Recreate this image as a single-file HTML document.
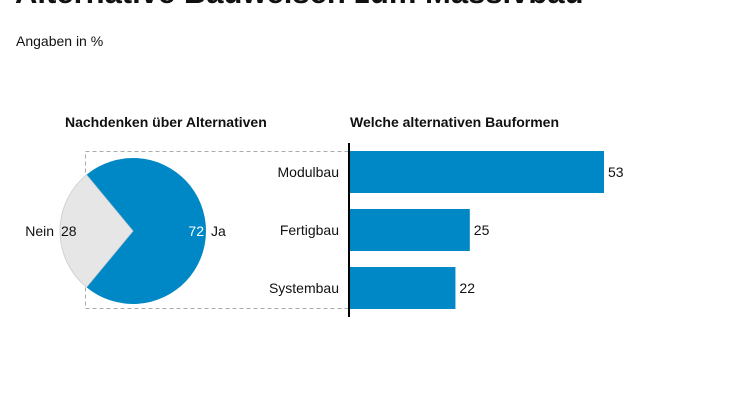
<!DOCTYPE html>
<html><head><meta charset="utf-8"><style>
body{margin:0;width:746px;height:419px;background:#fff;overflow:hidden;font-family:"Liberation Sans",Arial,sans-serif}
svg{display:block}
text{font-family:"Liberation Sans",Arial,sans-serif}
</style></head><body>
<svg width="746" height="419" viewBox="0 0 746 419">
<text x="15" y="3" font-size="31" font-weight="bold" fill="#111">Alternative Bauweisen zum Massivbau</text>
<text x="16" y="46" font-size="14" fill="#111">Angaben in %</text>
<text x="65" y="127" font-size="14" font-weight="bold" fill="#111">Nachdenken über Alternativen</text>
<text x="350" y="127" font-size="14" font-weight="bold" fill="#111">Welche alternativen Bauformen</text>
<rect x="85.5" y="151.5" width="263" height="157" fill="none" stroke="#aaa" stroke-dasharray="4,3"/>
<g id="pie"></g>
<g id="bars"></g>
<line x1="349" y1="143" x2="349" y2="317" stroke="#000" stroke-width="2"/>
</svg>
<script>
const pieLabels=["Ja","Nein"];
const pieValues=[72,28];
const categories=["Modulbau","Fertigbau","Systembau"];
const barValues=[53,25,22];
const NS="http://www.w3.org/2000/svg";
function mk(t,a,p){const e=document.createElementNS(NS,t);for(const k in a)e.setAttribute(k,a[k]);p.appendChild(e);return e;}
// pie
const cx=133,cy=231,r=73;
const pg=document.getElementById('pie');
const total=pieValues.reduce((a,b)=>a+b,0);
const nein=pieValues[1]/total*360, ja=pieValues[0]/total*360;
function pt(deg){const a=deg*Math.PI/180;return [cx+r*Math.cos(a),cy+r*Math.sin(a)];}
// Ja centered at 0deg (right), Nein centered at 180deg
const s1=pt(-ja/2),e1=pt(ja/2);
const ps1=mk('path',{d:`M${cx},${cy}L${s1[0]},${s1[1]}A${r},${r} 0 ${ja>180?1:0} 1 ${e1[0]},${e1[1]}Z`,fill:'#0088c6'},pg);


const s2=pt(180-nein/2),e2=pt(180+nein/2);
const ps2=mk('path',{d:`M${cx},${cy}L${s2[0]},${s2[1]}A${r},${r} 0 ${nein>180?1:0} 1 ${e2[0]},${e2[1]}Z`,fill:'#e6e6e6',stroke:'#ccc','stroke-width':'0.8'},pg);


const t1=mk('text',{x:204,y:236,'font-size':14,fill:'#fff','text-anchor':'end'},pg);t1.textContent=pieValues[0];


const t2=mk('text',{x:211,y:236,'font-size':14,fill:'#111'},pg);t2.textContent=pieLabels[0];


const t3=mk('text',{x:61,y:236,'font-size':14,fill:'#111'},pg);t3.textContent=pieValues[1];


const t4=mk('text',{x:54,y:236,'font-size':14,fill:'#111','text-anchor':'end'},pg);t4.textContent=pieLabels[1];


// bars
const bg=document.getElementById('bars');
const x0=350,scale=254/53;
const xs=v=>x0+v*scale;
const y0=151,step=58,bh=42;
categories.forEach((c,i)=>{
 const y=y0+i*step;
 const b=mk('rect',{x:x0,y:y,width:xs(barValues[i])-x0,height:bh,fill:'#0088c6'},bg);
 
 
 const l=mk('text',{x:339,y:y+bh/2+5,'font-size':14,fill:'#111','text-anchor':'end'},bg);l.textContent=c;
 
 
 const v=mk('text',{x:xs(barValues[i])+4,y:y+bh/2+5,'font-size':14,fill:'#111'},bg);v.textContent=barValues[i];
 
 
});
</script>
</body></html>
